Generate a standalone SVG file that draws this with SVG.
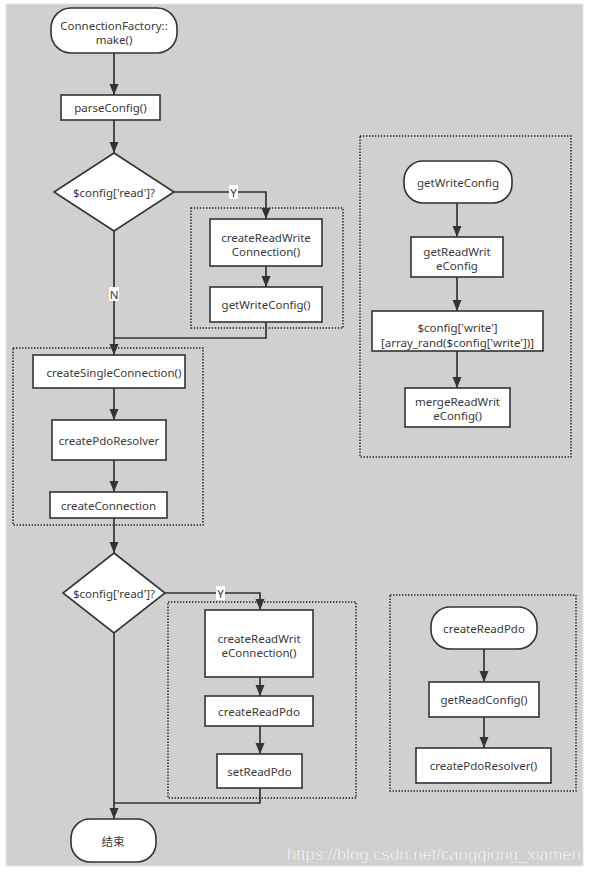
<svg xmlns="http://www.w3.org/2000/svg" width="589" height="873" viewBox="0 0 589 873">
<defs>
<marker id="ah" markerUnits="userSpaceOnUse" markerWidth="12" markerHeight="12" viewBox="0 0 12 12" refX="11" refY="6" orient="auto">
<path d="M0,1.5 L11,6 L0,10.5 Z" fill="#333"/>
</marker>
</defs>
<style>
.bg{fill:#d0d0d0;stroke:#e6e6e6;stroke-width:1}
.box{fill:#fff;stroke:#333;stroke-width:1.6}
.grp{fill:none;stroke:#222;stroke-width:1.4;stroke-dasharray:1.4 1.6}
.t{font-family:"Noto Sans","Open Sans","Noto Sans CJK SC",sans-serif;font-size:11.5px;fill:#3a3a3a;text-anchor:middle;dominant-baseline:central}
.ln{fill:none;stroke:#333;stroke-width:1.7}
.arr{marker-end:url(#ah)}
.lb{fill:#fff}
.wm{font-family:"Liberation Sans",Arial,sans-serif;font-size:16.7px;fill:#fff;fill-opacity:0.85;stroke:#999;stroke-width:0.3;stroke-opacity:0.6}
</style>
<rect x="0" y="0" width="589" height="873" fill="#fff"/>
<rect class="bg" x="6" y="4" width="577" height="862"/>

<g id="groups">
<rect class="grp" x="191" y="208" width="152" height="120"/>
<rect class="grp" x="13" y="348" width="190" height="177"/>
<rect class="grp" x="360" y="136" width="211" height="321"/>
<rect class="grp" x="168" y="602" width="188" height="196"/>
<rect class="grp" x="390" y="595" width="186" height="196"/>
</g>

<g id="connectors">
<line class="ln arr" x1="114" y1="53" x2="114" y2="95"/>
<line class="ln arr" x1="114" y1="120" x2="114" y2="153"/>
<polyline class="ln arr" points="174,192 266,192 266,219"/>
<line class="ln arr" x1="266" y1="266" x2="266" y2="287"/>
<line class="ln arr" x1="114" y1="231" x2="114" y2="355"/>
<polyline class="ln" points="266,322 266,338 114,338"/>
<line class="ln arr" x1="114" y1="388" x2="114" y2="420"/>
<line class="ln arr" x1="114" y1="460" x2="114" y2="492"/>
<line class="ln arr" x1="114" y1="518" x2="114" y2="553"/>
<polyline class="ln arr" points="165,593 260,593 260,610"/>
<line class="ln arr" x1="260" y1="677" x2="260" y2="696"/>
<line class="ln arr" x1="260" y1="726" x2="260" y2="754"/>
<line class="ln arr" x1="114" y1="633" x2="114" y2="819"/>
<polyline class="ln" points="260,788 260,803 114,803"/>
<line class="ln arr" x1="457" y1="203" x2="457" y2="237"/>
<line class="ln arr" x1="457" y1="277" x2="457" y2="311"/>
<line class="ln arr" x1="457" y1="351" x2="457" y2="388"/>
<line class="ln arr" x1="484" y1="649" x2="484" y2="682"/>
<line class="ln arr" x1="484" y1="717" x2="484" y2="748"/>
<rect class="lb" x="229" y="185" width="9" height="14"/>
<text class="t" x="233.5" y="192">Y</text>
<rect class="lb" x="109" y="287" width="10" height="14"/>
<text class="t" x="114" y="294">N</text>
<rect class="lb" x="216" y="586" width="9" height="14"/>
<text class="t" x="220.5" y="593">Y</text>
</g>

<g id="start"><rect class="box" x="51" y="8" width="126" height="45" rx="20"/><text class="t" x="114" y="25">ConnectionFactory::</text><text class="t" x="114" y="39">make()</text></g>
<g id="parseConfig"><rect class="box" x="61" y="95" width="99" height="25"/><text class="t" x="110.5" y="107.5">parseConfig()</text></g>
<g id="decision1"><polygon class="box" points="114,153 174,192 114,231 54,192"/><text class="t" x="114" y="192">$config['read']?</text></g>
<g id="createReadWriteConnection1"><rect class="box" x="210" y="219" width="112" height="47"/><text class="t" x="266" y="237">createReadWrite</text><text class="t" x="266" y="251">Connection()</text></g>
<g id="getWriteConfig1"><rect class="box" x="210" y="287" width="112" height="35"/><text class="t" x="266" y="304.5">getWriteConfig()</text></g>
<g id="createSingleConnection"><rect class="box" x="33" y="355" width="152" height="33"/><text class="t" x="114" y="372">createSingleConnection()</text></g>
<g id="createPdoResolver"><rect class="box" x="52" y="420" width="114" height="40"/><text class="t" x="109" y="440">createPdoResolver</text></g>
<g id="createConnection"><rect class="box" x="50" y="492" width="117" height="26"/><text class="t" x="108.5" y="505">createConnection</text></g>
<g id="decision2"><polygon class="box" points="114,553 165,593 114,633 63,593"/><text class="t" x="114" y="593">$config['read']?</text></g>
<g id="createReadWriteConnection2"><rect class="box" x="205" y="610" width="108" height="67"/><text class="t" x="259" y="638">createReadWrit</text><text class="t" x="259" y="652">eConnection()</text></g>
<g id="createReadPdo1"><rect class="box" x="205" y="696" width="108" height="30"/><text class="t" x="259" y="711">createReadPdo</text></g>
<g id="setReadPdo"><rect class="box" x="217" y="754" width="85" height="34"/><text class="t" x="259.5" y="771">setReadPdo</text></g>
<g id="end"><rect class="box" x="71" y="819" width="85" height="43" rx="19"/><text class="t" x="113" y="841">结束</text></g>
<g id="getWriteConfig2"><rect class="box" x="404" y="161" width="108" height="42" rx="19"/><text class="t" x="458" y="182">getWriteConfig</text></g>
<g id="getReadWriteConfig"><rect class="box" x="411" y="237" width="92" height="40"/><text class="t" x="457" y="251">getReadWrit</text><text class="t" x="457" y="265">eConfig</text></g>
<g id="configWrite"><rect class="box" x="372" y="311" width="171" height="40"/><text class="t" x="457.5" y="327">$config['write']</text><text class="t" x="457.5" y="342">[array_rand($config['write'])]</text></g>
<g id="mergeReadWriteConfig"><rect class="box" x="405" y="388" width="105" height="39"/><text class="t" x="457.5" y="401">mergeReadWrit</text><text class="t" x="457.5" y="415">eConfig()</text></g>
<g id="createReadPdo2"><rect class="box" x="431" y="607" width="106" height="42" rx="19"/><text class="t" x="484" y="628">createReadPdo</text></g>
<g id="getReadConfig"><rect class="box" x="429" y="682" width="110" height="35"/><text class="t" x="484" y="699.5">getReadConfig()</text></g>
<g id="createPdoResolver2"><rect class="box" x="416" y="748" width="135" height="35"/><text class="t" x="483.5" y="765.5">createPdoResolver()</text></g>

<text class="wm" x="287" y="860">https://blog.csdn.net/cangqiong_xiamen</text>
</svg>
